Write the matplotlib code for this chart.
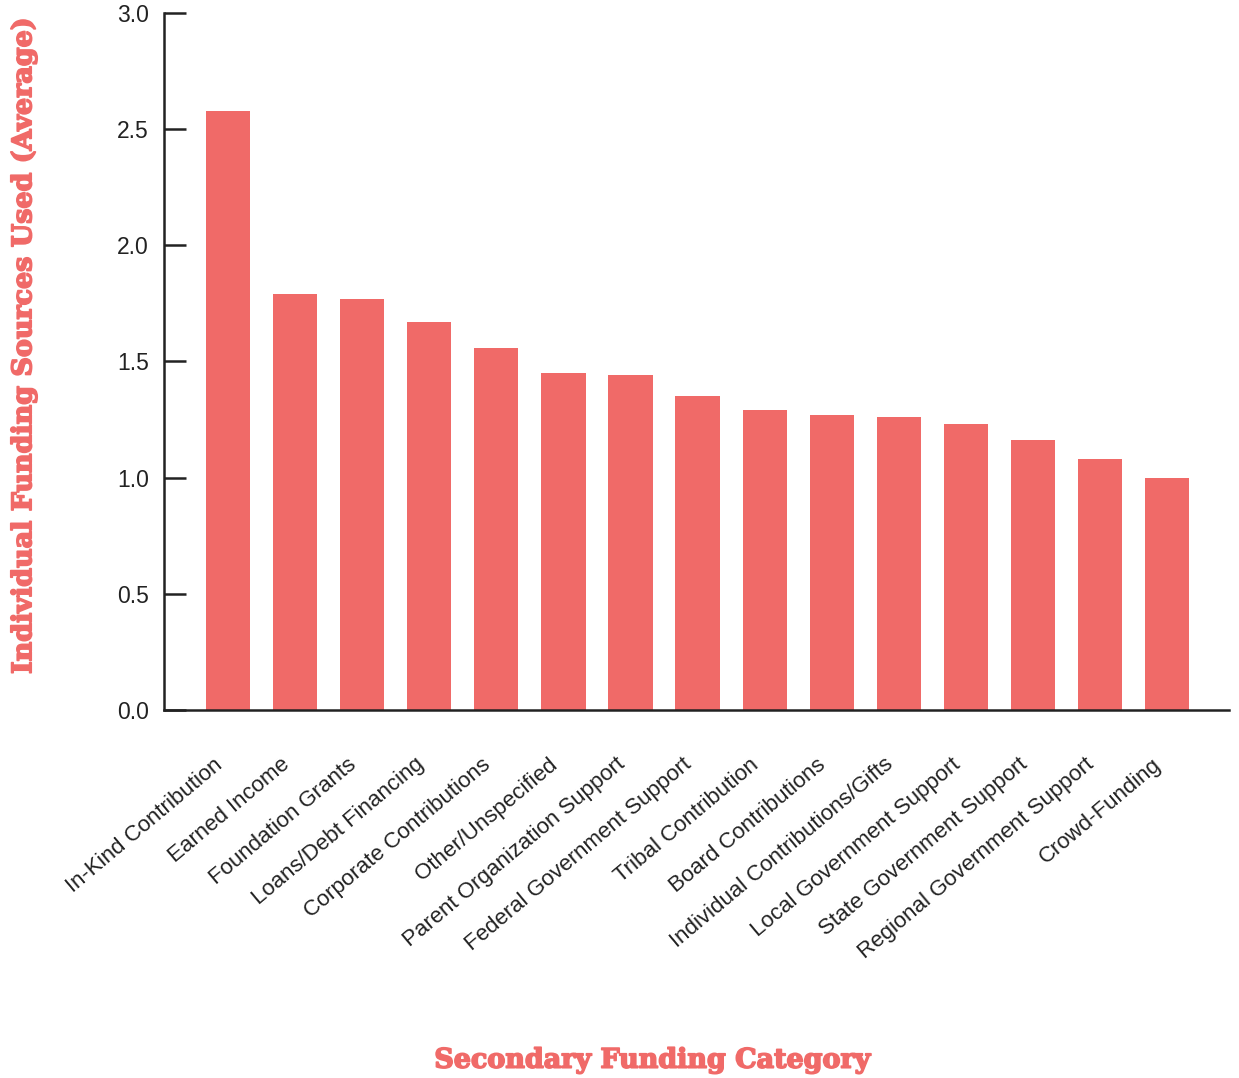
import numpy as np
import matplotlib
matplotlib.use("Agg")
import matplotlib.pyplot as plt
import matplotlib.patheffects as pe

categories = [
    "In-Kind Contribution",
    "Earned Income",
    "Foundation Grants",
    "Loans/Debt Financing",
    "Corporate Contributions",
    "Other/Unspecified",
    "Parent Organization Support",
    "Federal Government Support",
    "Tribal Contribution",
    "Board Contributions",
    "Individual Contributions/Gifts",
    "Local Government Support",
    "State Government Support",
    "Regional Government Support",
    "Crowd-Funding",
]
avg_sources = [2.58, 1.79, 1.77, 1.67, 1.56, 1.45, 1.44, 1.35,
               1.29, 1.27, 1.26, 1.23, 1.16, 1.08, 1.00]
y_ticks = [0.0, 0.5, 1.0, 1.5, 2.0, 2.5, 3.0]

BAR_COLOR = "#F06A68"
LABEL_COLOR = "#F06A68"
INK = "#222222"

plt.rcParams["font.family"] = ["Liberation Sans", "DejaVu Sans"]

fig = plt.figure(figsize=(12.39, 10.78), dpi=100)
ax = fig.add_axes([0.1324, 0.3414, 0.8596, 0.6466])

x = np.arange(len(categories))
ax.bar(x, avg_sources, width=0.66, color=BAR_COLOR, zorder=2)

ax.set_xlim(-0.955, len(categories) - 1 + 0.925)
ax.set_ylim(0, 3.0)
ax.set_yticks(y_ticks)
ax.set_yticklabels([f"{v:.1f}" for v in y_ticks], fontsize=16.5, color=INK)
ax.set_xticks(x)
ax.set_xticklabels([])

# slanted category names, hung below the baseline
for i, cat in enumerate(categories):
    ax.annotate(cat, xy=(i, 0), xycoords=("data", "axes fraction"),
                xytext=(-15, -44), textcoords="offset pixels",
                rotation=40, ha="right", va="top", rotation_mode="anchor",
                fontsize=16, color=INK, annotation_clip=False)

ax.tick_params(axis="y", direction="in", length=16, width=1.8, color=INK, pad=11)
ax.tick_params(axis="x", length=0)

for side in ["top", "right"]:
    ax.spines[side].set_visible(False)
for side in ["left", "bottom"]:
    ax.spines[side].set_linewidth(1.8)
    ax.spines[side].set_color(INK)

heavy = [pe.withStroke(linewidth=1.2, foreground=LABEL_COLOR)]
fig.text(0.019, 0.6786, "Individual Funding Sources Used (Average)",
         rotation=90, ha="center", va="center", fontsize=19.4,
         family="DejaVu Serif", weight="bold", color=LABEL_COLOR,
         path_effects=heavy)
fig.text(0.5262, 0.0165, "Secondary Funding Category",
         ha="center", va="center", fontsize=19.4,
         family="DejaVu Serif", weight="bold", color=LABEL_COLOR,
         path_effects=heavy)

fig.savefig("out.png", dpi=100)
